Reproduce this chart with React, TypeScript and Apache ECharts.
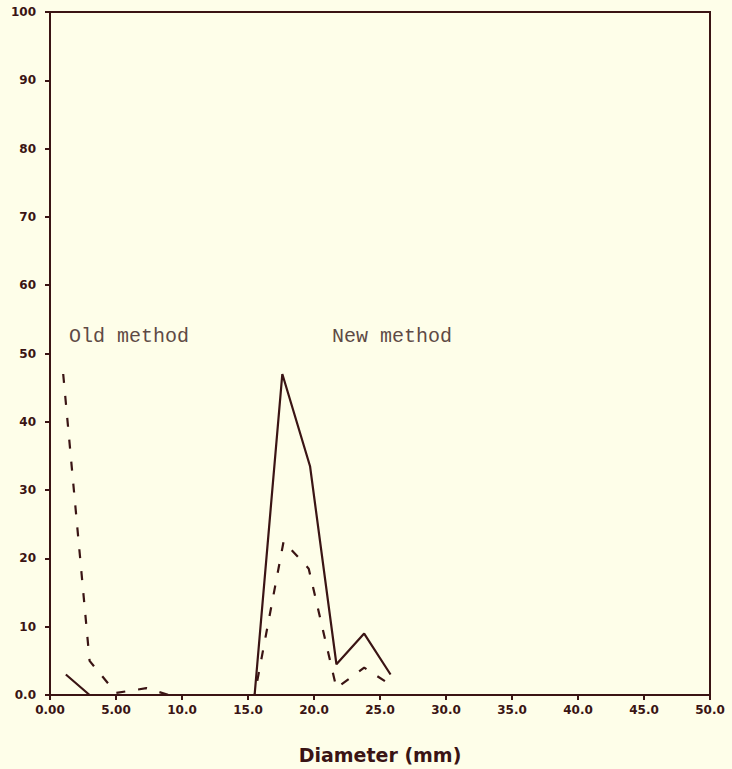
import React, { useEffect, useRef } from "react";
import * as echarts from "echarts";

// Diameter (mm) / value pairs
const solidX = [1.2, 3.0, 15.5, 17.6, 19.7, 21.7, 23.8, 25.8];
const solidY = [3.0, 0, 0, 47.0, 33.5, 4.5, 9.0, 3.0];
const dashedX = [1.0, 3.0, 5.0, 7.3, 9.0, 15.5, 17.7, 19.6, 21.7, 23.8, 25.8];
const dashedY = [47.0, 5.0, 0.3, 1.0, 0, 0, 22.5, 18.5, 1.0, 4.0, 1.5];
const markerX = [16.0];
const markerY = [5.6];

const xTickLabels = ["0.00", "5.00", "10.0", "15.0", "20.0", "25.0", "30.0", "35.0", "40.0", "45.0", "50.0"];
const yTickLabels = ["0.0", "10", "20", "30", "40", "50", "60", "70", "80", "90", "100"];
const groupLabels = ["Old method", "New method"];
const xTitle = "Diameter (mm)";

const INK = "#3a1414";
const BG = "#fefee9";

export default function App() {
  const ref = useRef<HTMLDivElement>(null);
  useEffect(() => {
    document.body.style.margin = "0";
    document.body.style.background = BG;
    const chart = echarts.init(ref.current!, null, { renderer: "svg" });
    const pairs = (xs: number[], ys: number[]) => xs.map((x, i) => [x, ys[i]]);
    chart.setOption({
      animation: false,
      backgroundColor: BG,
      grid: {
        left: 50,
        right: 22,
        top: 12,
        bottom: 71,
        show: true,
        borderColor: INK,
        borderWidth: 2,
        backgroundColor: "transparent",
      },
      xAxis: {
        type: "value",
        min: 0,
        max: 50,
        interval: 5,
        name: xTitle,
        nameLocation: "middle",
        nameGap: 50,
        nameTextStyle: { fontFamily: "DejaVu Sans", fontWeight: "bold", fontSize: 19, color: INK },
        splitLine: { show: false },
        axisLine: { show: true, onZero: false, lineStyle: { color: INK, width: 2 } },
        axisTick: { show: true, inside: false, length: 5, lineStyle: { color: INK, width: 2 } },
        axisLabel: {
          margin: 9,
          fontFamily: "DejaVu Sans",
          fontWeight: "bold",
          fontSize: 12,
          color: INK,
          formatter: (v: number) => xTickLabels[Math.round(v / 5)] ?? "",
        },
      },
      yAxis: {
        type: "value",
        min: 0,
        max: 100,
        interval: 10,
        splitLine: { show: false },
        axisLine: { show: true, onZero: false, lineStyle: { color: INK, width: 2 } },
        axisTick: { show: true, inside: false, length: 5, lineStyle: { color: INK, width: 2 } },
        axisLabel: {
          margin: 14,
          fontFamily: "DejaVu Sans",
          fontWeight: "bold",
          fontSize: 12,
          color: INK,
          formatter: (v: number) => yTickLabels[Math.round(v / 10)] ?? "",
        },
      },
      series: [
        {
          type: "line",
          data: pairs(solidX, solidY),
          symbol: "none",
          lineStyle: { color: INK, width: 2.2, type: "solid" },
        },
        {
          type: "line",
          data: pairs(dashedX, dashedY),
          symbol: "none",
          lineStyle: { color: INK, width: 2.2, type: [9, 13] },
        },
        {
          type: "scatter",
          data: pairs(markerX, markerY),
          symbol: "emptyCircle",
          symbolSize: 5,
          itemStyle: { color: BG, borderColor: INK, borderWidth: 1.5 },
        },
      ],
      graphic: [
        {
          type: "text",
          left: 69,
          top: 326,
          style: { text: groupLabels[0], fontFamily: "Liberation Mono", fontSize: 20, fill: "#5e4a45" },
        },
        {
          type: "text",
          left: 332,
          top: 326,
          style: { text: groupLabels[1], fontFamily: "Liberation Mono", fontSize: 20, fill: "#5e4a45" },
        },
      ],
    });
    return () => chart.dispose();
  }, []);
  return <div ref={ref} style={{ width: 732, height: 769 }} />;
}
